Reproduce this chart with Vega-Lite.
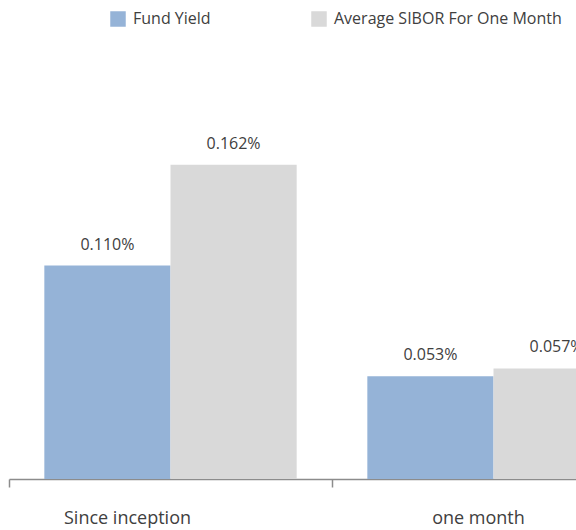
{
  "$schema": "https://vega.github.io/schema/vega-lite/v6.json",
  "autosize": {"type": "none"},
  "padding": {"left": 9, "top": 91, "right": 0, "bottom": 51},
  "width": 567,
  "height": 388,
  "background": "white",
  "config": {"view": {"stroke": null}, "font": "Open Sans"},
  "data": {
    "values": [
      {"period": "Since inception", "series": "Fund Yield", "value": 0.0011},
      {"period": "Since inception", "series": "Average SIBOR For One Month", "value": 0.00162},
      {"period": "one month", "series": "Fund Yield", "value": 0.00053},
      {"period": "one month", "series": "Average SIBOR For One Month", "value": 0.00057}
    ]
  },
  "encoding": {
    "x": {
      "field": "period", "type": "nominal", "sort": ["Since inception", "one month"],
      "scale": {"range": [0, 646], "paddingInner": 0, "paddingOuter": 0},
      "axis": {
        "title": null, "bandPosition": 0, "labelAngle": 0,
        "domainColor": "#8c8c8c", "domainWidth": 1.5,
        "tickColor": "#8c8c8c", "tickWidth": 1.5, "tickSize": 8,
        "labelFont": "Open Sans", "labelFontSize": 18, "labelColor": "#404040",
        "labelBaseline": "alphabetic", "labelPadding": 36, "labelAlign": "center",
        "labelOffset": {"condition": {"test": "datum.value === 'Since inception'", "value": -43}, "value": -15}
      }
    },
    "xOffset": {
      "field": "series", "type": "nominal", "sort": ["Fund Yield", "Average SIBOR For One Month"],
      "scale": {"paddingInner": 0, "paddingOuter": 0.28}
    },
    "y": {"field": "value", "type": "quantitative", "scale": {"domain": [0, 0.002]}, "axis": null}
  },
  "layer": [
    {
      "mark": {"type": "bar"},
      "encoding": {
        "color": {
          "field": "series", "type": "nominal",
          "scale": {"domain": ["Fund Yield", "Average SIBOR For One Month"], "range": ["#95B3D7", "#D9D9D9"]},
          "legend": {
            "title": null, "orient": "none", "direction": "horizontal",
            "legendX": 101, "legendY": -80, "padding": 0,
            "symbolType": "square", "symbolSize": 240, "symbolStrokeWidth": 0,
            "labelFont": "Open Sans", "labelFontSize": 16, "labelColor": "#404040",
            "labelOffset": 7, "labelLimit": 400, "columnPadding": 100, "gridAlign": "each"
          }
        }
      }
    },
    {
      "mark": {"type": "text", "dy": -16, "baseline": "alphabetic", "align": "center", "font": "Open Sans", "fontSize": 16, "color": "#404040"},
      "encoding": {"text": {"field": "value", "type": "quantitative", "format": ".3%"}}
    }
  ]
}
